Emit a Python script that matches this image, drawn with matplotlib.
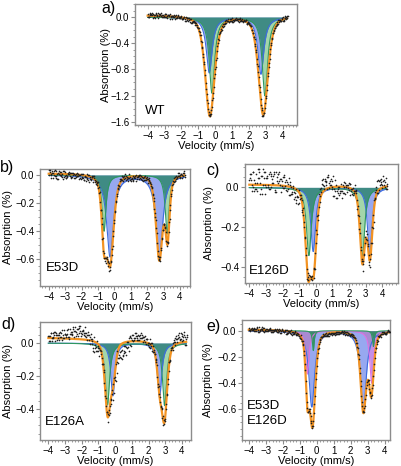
import numpy as np
import matplotlib
matplotlib.use("Agg")
import matplotlib.pyplot as plt
from matplotlib.ticker import MultipleLocator, FuncFormatter

plt.rcParams['font.family'] = ['Liberation Sans', 'DejaVu Sans']

# ---------------- data ----------------
# Fitted sub-spectra, each line: (centre mm/s, depth %, half width mm/s)
A_BLUE = [(-0.35, -0.85, 0.21), (2.71, -0.87, 0.21)]
A_GREEN = [(-0.19, -1.16, 0.19), (2.95, -1.20, 0.19)]
A_TOTAL = [(-0.31, -1.54, 0.33), (2.85, -1.52, 0.33)]
A_BASE = (0.03, 0.0)

B_BLUE = [(-0.26, -0.58, 0.25), (2.74, -0.60, 0.24)]
B_GREEN = [(-0.63, -0.40, 0.14), (3.22, -0.42, 0.14)]
B_TOTAL = [(-0.63, -0.40, 0.17), (-0.26, -0.62, 0.26), (2.74, -0.60, 0.24), (3.24, -0.43, 0.15)]
B_BASE = (0.012, 0.0)

C_GREEN = [(-0.42, -0.34, 0.17), (2.80, -0.35, 0.16)]
C_BLUE = [(-0.16, -0.32, 0.17), (3.24, -0.34, 0.16)]
C_TOTAL = [(-0.47, -0.40, 0.20), (-0.13, -0.38, 0.20), (2.80, -0.37, 0.18), (3.25, -0.35, 0.18)]
C_BASE = (0.015, 0.0)

D_GREEN = [(-0.46, -0.376, 0.15), (2.96, -0.38, 0.15)]
D_BLUE = [(-0.14, -0.32, 0.15), (2.66, -0.33, 0.15)]
D_TOTAL = [(-0.45, -0.44, 0.20), (-0.12, -0.20, 0.18), (2.66, -0.22, 0.18), (2.95, -0.45, 0.20)]
D_BASE = (0.024, -0.002)

E_BLUE = [(-0.29, -0.58, 0.20), (2.75, -0.62, 0.20)]
E_PURPLE = [(-0.55, -0.33, 0.12), (3.24, -0.40, 0.13)]
E_GREEN = [(-0.20, -0.15, 0.06), (3.34, -0.12, 0.06)]
E_TOTAL = [(-0.55, -0.42, 0.12), (-0.25, -0.71, 0.20), (2.75, -0.60, 0.20), (3.22, -0.45, 0.17)]
E_BASE = (0.005, -0.001)

# residuals of the measured points around the fit (in panel noise units)
NOISE_A = [3, -2, 5, 1, -4, 2, 6, -1, 0, 4, -3, 2, 5, -2, 1, 3, -5, 0, 2, -1,
           4, -3, 1, -2, 0, -4, 2, -6, -3, 1, -5, 2, -2, -1, 3, -4, 0, 2, -3, 1,
           -2, 4, -1, -3, 2, 0, 5, -2, 1, -4, 3, 6, -1, 2, -3, 0, 4, 1, -2, 3,
           -1, -5, 2, 0, -3, 1, 4, -2, 0, -1, 3, -4, 2, 1, -3, 0, 2, -2, -5, 1,
           3, -1, 0, -2, 4, -3, 2, -1, 1, 5, -2, 0, 3, -4, 2, -1, 6, -3, 1, 4]
NOISE_B = [-2, 4, -5, 1, 3, -3, 0, -6, 2, -1, -4, 3, -2, -5, 1, 0, -3, 2, -1, -4,
           1, -2, -5, 0, -3, 1, -6, -2, 2, -4, 0, -3, 1, 3, -2, 0, 4, -1, -6, 2,
           -3, 1, 0, -2, 3, -4, 1, 2, -1, 4, 0, 3, 5, 2, -1, 3, 0, -2, -4, -1,
           -5, -3, 0, -2, 1, -1, -3, 2, 0, -4, 1, -2, 3, 0, -1, 2, -3, 1, 0, 4,
           -2, 1, 3, -1, 2, 0, -3, 1, 4, -2, 0, 2, -1, 3, 1, 5, -2, 2, 0, 3]
NOISE_C = [2, 5, -3, 6, 1, -2, 7, 3, -4, 4, 0, 6, -1, 3, 5, -2, 4, 1, 6, -3,
           2, 5, 0, 3, -1, 4, 2, -2, 1, -4, 0, -3, -5, -2, -6, -3, 1, -1, -4, 2,
           -3, 0, -2, 3, 1, -1, -3, 0, 2, 4, 1, 5, 3, 6, 2, 4, 0, 5, 3, 1,
           -1, -4, -2, -5, -3, 0, 1, -2, 2, -3, 0, 1, -1, 2, 0, -2, 3, 1, -3, 0,
           2, -1, 1, -2, 0, 3, -4, 1, 2, -1, 4, 3, 0, 5, 2, 4, 1, 3, 0, -1]
NOISE_D = [1, -2, 3, 0, 2, 4, -1, 2, 3, 1, 5, 0, 3, 2, 6, 1, 4, 3, 7, 5,
           2, 6, 4, 8, 3, 5, 2, 4, 0, 3, -2, 1, -4, -6, -3, -5, -1, -2, 0, -3,
           1, -2, 0, 2, -3, -1, 1, -6, -4, -9, -7, -5, -8, -4, -6, -2, -3, 0, 2, 3,
           1, 4, 2, 5, 3, 1, 4, 2, 0, 3, -1, 2, -2, 0, 1, -3, 0, -1, 2, -2,
           1, 0, -1, 2, -3, 1, -2, 0, 3, 1, 4, 2, 5, 3, 6, 2, 4, 1, 3, -2]
NOISE_E = [2, -1, 3, 0, -2, 1, 4, -3, 0, 2, -1, 3, 1, -2, 0, 2, -3, 1, -1, 0,
           2, -2, 1, -3, 0, -1, 2, -4, -2, 1, -3, 0, -1, 2, -2, 1, -4, -3, 0, -2,
           1, -1, 0, 2, -1, 3, 1, 2, 0, 3, 1, 2, -1, 0, -2, -3, -1, -4, -2, 0,
           -3, -1, 1, -2, 0, -1, 2, 0, -3, 1, -2, 0, 1, -1, 2, 0, -2, 1, 3, -1,
           0, 2, -1, 1, -2, 0, 3, -1, 2, 1, -3, 0, 2, -1, 1, 3, 0, -2, 1, 2]
NOISE_UNIT = {'a': 0.007, 'b': 0.006, 'c': 0.011, 'd': 0.010, 'e': 0.005}

X_TICKS = [-4, -3, -2, -1, 0, 1, 2, 3, 4]
Y_TICKS = {'a': [0.0, -0.4, -0.8, -1.2, -1.6],
           'b': [0.0, -0.2, -0.4, -0.6],
           'c': [0.0, -0.2, -0.4],
           'd': [0.0, -0.2, -0.4],
           'e': [0.0, -0.2, -0.4, -0.6]}
SAMPLES = {'a': 'WT', 'b': 'E53D', 'c': 'E126D', 'd': 'E126A', 'e': 'E53D\nE126D'}

# ---------------- style ----------------
TEAL = '#3f8b84'
LGREEN = '#a3d6aa'
LBLUE = '#97a8f0'
BLUE_LINE = '#3d6de0'
GREEN_LINE = '#2f9860'
ORANGE = '#f39322'
VIOLET = '#c58fe6'
PURPLE_OV = '#a98ad2'
PINK_LINE = '#e070e2'
DARKGREEN = '#3c8a6c'
SPINE = '#8c8c8c'

W, H = 402, 466
fig = plt.figure(figsize=(W / 100, H / 100), dpi=100)


def box(l, t, r, b):
    return [l / W, 1 - b / H, (r - l) / W, (b - t) / H]


def lines(x, comps, eta=1.0):
    out = np.zeros_like(x)
    for c, d, w in comps:
        u = (x - c) / w
        out = out + d * (eta / (1 + u ** 2) + (1 - eta) * np.exp(-np.log(2) * u ** 2))
    return out


xf = np.linspace(-4.0, 4.25, 800)


def style(ax, key, xlim, ylim, ylab_px):
    ax.set_xlim(*xlim)
    ax.set_ylim(*ylim)
    ax.set_xticks(X_TICKS)
    ax.set_yticks(Y_TICKS[key])
    ax.xaxis.set_minor_locator(MultipleLocator(0.2))
    ax.yaxis.set_minor_locator(MultipleLocator(0.1 if key == 'a' else 0.05))
    ax.yaxis.set_major_formatter(FuncFormatter(lambda v, p: f"{v:.1f}".replace('-', '\u2212')))
    ax.xaxis.set_major_formatter(FuncFormatter(lambda v, p: f"{v:.0f}".replace('-', '\u2212')))
    for s in ax.spines.values():
        s.set_color(SPINE)
        s.set_linewidth(1.0)
    ax.tick_params(which='major', length=3, width=0.8, color=SPINE, labelsize=7, pad=1)
    ax.tick_params(which='minor', length=1.5, width=0.6, color=SPINE)
    ax.set_xlabel('Velocity (mm/s)', fontsize=8, labelpad=0)
    ax.set_ylabel('Absorption (%)', fontsize=8, va='center')
    pos = ax.get_position()
    ax.yaxis.set_label_coords((ylab_px / W - pos.x0) / pos.width, 0.5)


def panel(key, rect, comps1, comps2, total_lines, base, noise, xlim, ylim, ylab_px, third=None):
    ax = fig.add_axes(rect)
    c1 = lines(xf, comps1)
    c2 = lines(xf, comps2)
    if key == 'e':
        ax.fill_between(xf, 0, c2, color=VIOLET, lw=0)
        ax.fill_between(xf, 0, c1, color=LBLUE, lw=0)
        ax.fill_between(xf, 0, np.maximum(c1, c2), color=PURPLE_OV, lw=0)
        c3 = lines(xf, third)
        ax.fill_between(xf, 0, c3, color=DARKGREEN, lw=0)
        ax.plot(xf, c1, color=BLUE_LINE, lw=0.8)
        ax.plot(xf, c2, color=PINK_LINE, lw=0.8)
        ax.plot(xf, c3, color=GREEN_LINE, lw=0.8)
    else:
        ax.fill_between(xf, 0, c2, color=LGREEN, lw=0)
        ax.fill_between(xf, 0, c1, color=LBLUE, lw=0)
        ax.fill_between(xf, 0, np.maximum(c1, c2), color=TEAL, lw=0)
        ax.plot(xf, c1, color=BLUE_LINE, lw=0.8)
        ax.plot(xf, c2, color=GREEN_LINE, lw=0.8)
    total = lines(xf, total_lines, eta=0.55) + base[0] + base[1] * xf
    ax.plot(xf, total, color=ORANGE, lw=1.6, zorder=3)
    # measured points: three interleaved channel sets
    n = np.array(noise)
    sets = [n, n.reshape(-1, 2)[:, ::-1].ravel(), np.roll(n, 3)]
    step = 8.25 / (len(n) - 1)
    for k, res in enumerate(sets):
        xd = np.linspace(-4.0, 4.25, len(n)) + k * step / 3
        yd = np.interp(xd, xf, total) + res * NOISE_UNIT[key]
        ax.plot(xd, yd, 'o', ms=1.2, color='#202020', mec='none', zorder=4)
    style(ax, key, xlim, ylim, ylab_px)
    return ax


axa = panel('a', box(135, 4, 297, 125), A_BLUE, A_GREEN, A_TOTAL, A_BASE, NOISE_A,
            (-4.75, 4.85), (-1.65, 0.2), 106)
axb = panel('b', box(40, 169, 190, 286), B_BLUE, B_GREEN, B_TOTAL, B_BASE, NOISE_B,
            (-4.53, 4.61), (-0.79, 0.043), 8)
axc = panel('c', box(245, 164, 398, 283), C_BLUE, C_GREEN, C_TOTAL, C_BASE, NOISE_C,
            (-4.26, 4.94), (-0.478, 0.117), 209.5)
axd = panel('d', box(40, 322, 191, 440), D_BLUE, D_GREEN, D_TOTAL, D_BASE, NOISE_D,
            (-4.5, 4.54), (-0.589, 0.128), 8)
axe = panel('e', box(242, 320, 390, 440), E_BLUE, E_PURPLE, E_TOTAL, E_BASE, NOISE_E,
            (-4.4, 4.32), (-0.834, 0.082), 208, third=E_GREEN)

# sample names
axa.text(-4.15, -1.43, SAMPLES['a'], fontsize=9.5, va='center')
axb.text(-4.2, -0.66, SAMPLES['b'], fontsize=9.5, va='center')
axc.text(-4.0, -0.42, SAMPLES['c'], fontsize=9.5, va='center')
axd.text(-4.2, -0.48, SAMPLES['d'], fontsize=9.5, va='center')
axe.text(-4.13, -0.575, 'E53D', fontsize=9.5, va='center')
axe.text(-4.13, -0.69, 'E126D', fontsize=9.5, va='center')

# panel letters
for lab, (px, py) in {'a)': (101, 8), 'b)': (0, 167.5), 'c)': (206, 171),
                      'd)': (1, 324), 'e)': (206, 326)}.items():
    fig.text(px / W, 1 - py / H, lab, fontsize=11.5, va='center', ha='left')

fig.savefig('out.png', dpi=100)
